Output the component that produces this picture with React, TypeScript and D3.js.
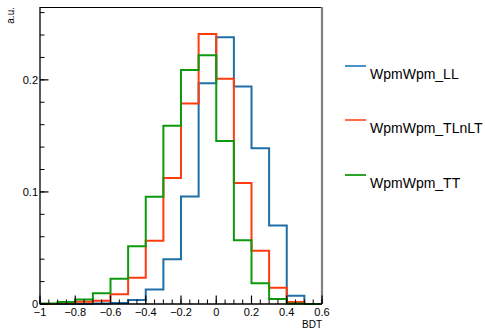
import * as d3 from 'd3';

// bin edges: -1 .. 0.6, width 0.1
const binEdges = [-1, -0.9, -0.8, -0.7, -0.6, -0.5, -0.4, -0.3, -0.2, -0.1, 0, 0.1, 0.2, 0.3, 0.4, 0.5, 0.6];

const llValues = [0, 0, 0, 0.0005, 0.001, 0.0036, 0.013, 0.04, 0.096, 0.197, 0.238, 0.194, 0.139, 0.07, 0.0074, 0];
const tlnltValues = [0, 0.001, 0.002, 0.003, 0.0087, 0.0235, 0.0565, 0.1125, 0.179, 0.241, 0.201, 0.108, 0.0476, 0.0146, 0.0018, 0];
const ttValues = [0.0005, 0.0018, 0.004, 0.0095, 0.0226, 0.0515, 0.0958, 0.159, 0.2087, 0.222, 0.1455, 0.0569, 0.0185, 0.0045, 0.0005, 0];

const seriesNames = ['WpmWpm_LL', 'WpmWpm_TLnLT', 'WpmWpm_TT'];
const seriesColors = ['#1f6fa6', '#ff3b10', '#0f990f'];
const legendColors = ['#4a93c6', '#ff6a4a', '#2aa52a'];

const xMajor = [-1, -0.8, -0.6, -0.4, -0.2, 0, 0.2, 0.4, 0.6];
const yMajor = [0, 0.1, 0.2];

export default function App() {
  const W = 485, H = 329;
  const left = 40, right = 322, top = 7, bottom = 304;

  const x = d3.scaleLinear().domain([-1, 0.6]).range([left, right]);
  const y = d3.scaleLinear().domain([0, 0.265]).range([bottom, top]);

  const step = d3.line<[number, number]>()
    .x(d => x(d[0]))
    .y(d => y(d[1]))
    .curve(d3.curveStepAfter);

  const histPath = (vals: number[]) => {
    const pts: [number, number][] = vals.map((v, i) => [binEdges[i], v]);
    pts.push([binEdges[binEdges.length - 1], vals[vals.length - 1]]);
    return step(pts) || '';
  };

  const allSeries = [llValues, tlnltValues, ttValues];

  const xMinor = d3.range(-1, 0.6001, 0.05).map(v => +v.toFixed(2));
  const yMinor = d3.range(0, 0.2601, 0.02).map(v => +v.toFixed(2));

  const fmt = (v: number) => {
    const s = String(+v.toFixed(1));
    return s.replace('-', '\u2212');
  };

  const font = 'Liberation Sans, Arial, Helvetica, sans-serif';
  const legendY = [66, 120, 175];

  return (
    <svg width={W} height={H} style={{ position: 'absolute', left: 0, top: 0, background: '#fff' }}
      fontFamily={font}>
      <rect x={0} y={0} width={W} height={H} fill="#fff" />

      {allSeries.map((vals, i) => (
        <path key={i} d={histPath(vals)} fill="none" stroke={seriesColors[i]} strokeWidth={2} />
      ))}

      {/* frame */}
      <line x1={left} x2={right} y1={top + 0.5} y2={top + 0.5} stroke="#000" strokeWidth={1} />
      <line x1={right} x2={right} y1={top} y2={bottom} stroke="#808080" strokeWidth={2.2} />
      <line x1={left} x2={left} y1={top} y2={bottom + 0.5} stroke="#000" strokeWidth={1.3} />
      <line x1={left} x2={right} y1={bottom} y2={bottom} stroke="#000" strokeWidth={1.3} />

      {/* y ticks */}
      {yMinor.map(v => (
        <line key={'ym' + v} x1={left} x2={left + 4.5} y1={y(v)} y2={y(v)} stroke="#000" strokeWidth={1} />
      ))}
      {yMajor.map(v => (
        <g key={'yM' + v}>
          <line x1={left} x2={left + 8.5} y1={y(v)} y2={y(v)} stroke="#000" strokeWidth={1.2} />
          <text x={left - 2} y={y(v) + 4} textAnchor="end" fontSize={11} fill="#000">{fmt(v)}</text>
        </g>
      ))}

      {/* x ticks */}
      {xMinor.map(v => (
        <line key={'xm' + v} x1={x(v)} x2={x(v)} y1={bottom} y2={bottom - 4.5} stroke="#000" strokeWidth={1} />
      ))}
      {xMajor.map(v => (
        <g key={'xM' + v}>
          <line x1={x(v)} x2={x(v)} y1={bottom} y2={bottom - 8.5} stroke="#000" strokeWidth={1.2} />
          <text x={x(v)} y={316} textAnchor="middle" fontSize={11} fill="#000">{fmt(v)}</text>
        </g>
      ))}

      {/* axis titles */}
      <text x={right} y={328} textAnchor="end" fontSize={10} fill="#000">BDT</text>
      <text transform="translate(14,7) rotate(-90)" textAnchor="end" fontSize={10} fill="#000">a.u.</text>

      {/* legend */}
      {seriesNames.map((name, i) => (
        <g key={name}>
          <line x1={345} x2={366} y1={legendY[i]} y2={legendY[i]} stroke={legendColors[i]} strokeWidth={2} />
          <text x={370} y={legendY[i] + 13} fontSize={14} fill="#000">{name}</text>
        </g>
      ))}
    </svg>
  );
}
